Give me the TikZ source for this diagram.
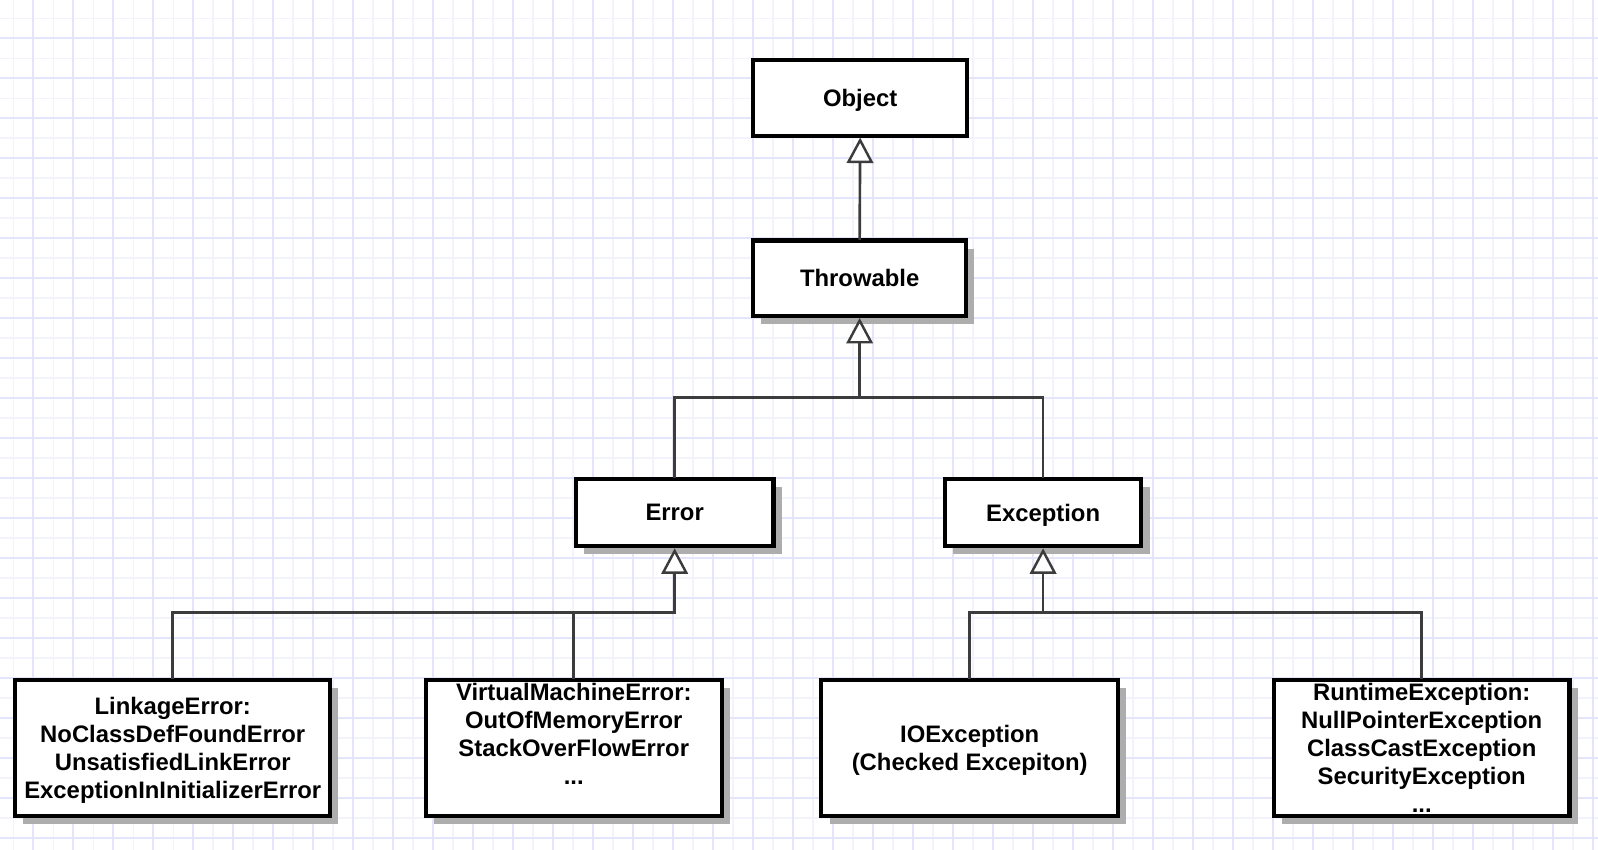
\documentclass[tikz,border=0pt]{standalone}
\usepackage{fontspec}
\setmainfont{Liberation Sans}
\usetikzlibrary{arrows.meta,shadows}
\definecolor{gridmin}{RGB}{243,243,253}
\definecolor{gridmaj}{RGB}{228,228,250}
\definecolor{connc}{RGB}{60,60,60}
\newcommand{\nodepth}[1]{\raisebox{0pt}[\height][0pt]{#1}}
\begin{document}
\begin{tikzpicture}[x=1pt,y=-1pt,
  cls/.style={draw=black, line width=4pt, fill=white, align=center, inner sep=0pt,
    font=\fontsize{23.4}{27.5}\selectfont\bfseries},
  shad/.style={general shadow={fill=black!32, shadow xshift=8pt, shadow yshift=-8pt}},
  conn/.style={draw=connc, line width=2.6pt, line cap=rect},
  inh/.style={conn, -{Triangle[length=25pt, width=26pt, fill=white, line width=2.4pt]}}]
\useasboundingbox (0,0) rectangle (1568,834);
\begin{scope}
\clip (0,0) rectangle (1568,834);
\fill[white] (0,0) rectangle (1568,834);
\foreach \i in {0,...,80} {
  \draw[gridmin, line width=1.6pt] ({13.1+19.62*\i},0) -- ({13.1+19.62*\i},834);
  \draw[gridmin, line width=1.6pt] (0,{18.0+19.62*\i}) -- (1568,{18.0+19.62*\i});
}
\foreach \i in {0,...,40} {
  \draw[gridmaj, line width=1.8pt] ({32.7+39.24*\i},0) -- ({32.7+39.24*\i},834);
  \draw[gridmaj, line width=1.8pt] (0,{37.6+39.24*\i}) -- (1568,{37.6+39.24*\i});
}
\end{scope}

\node[cls, minimum width=210pt, minimum height=74pt] (object) at (844,96) {\nodepth{Object}};
\node[cls, shad, minimum width=209pt, minimum height=74pt] (throwable) at (843.5,273) {\nodepth{Throwable}};
\node[cls, shad, minimum width=194pt, minimum height=66pt] (error) at (662,503) {\nodepth{Error}};
\node[cls, shad, minimum width=193pt, minimum height=66pt] (exception) at (1023.5,503) {\nodepth{Exception}};
\node[cls, shad, minimum width=309pt, minimum height=134pt] (linkage) at (169.5,734)
  {LinkageError:\\NoClassDefFoundError\\UnsatisfiedLinkError\\\nodepth{ExceptionInInitializerError}};
\node[cls, shad, minimum width=290pt, minimum height=134pt] (vme) at (563,734)
  {VirtualMachineError:\\OutOfMemoryError\\StackOverFlowError\\...\\\phantom{...}};
\node[cls, shad, minimum width=291pt, minimum height=134pt] (ioex) at (951.5,734)
  {IOException\\\nodepth{(Checked Excepiton)}};
\node[cls, shad, minimum width=290pt, minimum height=134pt] (runtime) at (1395,734)
  {RuntimeException:\\NullPointerException\\ClassCastException\\SecurityException\\...};

\coordinate (y390) at (0,390);
\coordinate (y601) at (0,601);
\coordinate (j1) at (throwable.south |- y390);
\coordinate (j2) at (error.south |- y601);
\coordinate (j3) at (exception.south |- y601);

\draw[inh] (throwable.north) -- (object.south);
\draw[inh] (error.north) |- (j1) -- (throwable.south);
\draw[conn] (exception.north) |- (j1);
\draw[inh] (linkage.north) |- (j2) -- (error.south);
\draw[conn] (vme.north) -- (vme.north |- j2);
\draw[inh] (ioex.north) |- (j3) -- (exception.south);
\draw[conn] (runtime.north) |- (j3);
\end{tikzpicture}
\end{document}
